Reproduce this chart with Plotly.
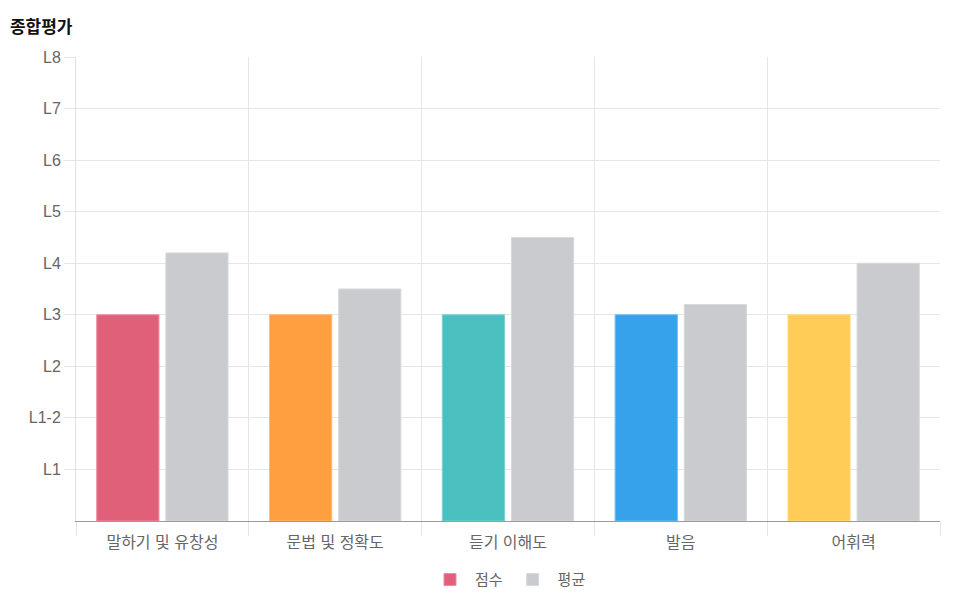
import plotly.graph_objects as go

categories = ["말하기 및 유창성", "문법 및 정확도", "듣기 이해도", "발음", "어휘력"]
score_values = [4, 4, 4, 4, 4]
average_values = [5.2, 4.5, 5.5, 4.2, 5.0]
y_tick_values = [1, 2, 3, 4, 5, 6, 7, 8, 9]
y_tick_labels = ["L1", "L1-2", "L2", "L3", "L4", "L5", "L6", "L7", "L8"]

score_colors = ["rgb(224,96,122)", "rgb(255,159,64)", "rgb(75,192,192)",
                "rgb(54,162,235)", "rgb(255,205,86)"]
score_borders = ["rgb(236,140,160)", "rgb(255,185,115)", "rgb(120,210,210)",
                 "rgb(110,190,240)", "rgb(255,220,130)"]
avg_color = "rgb(201,203,207)"

x_pos = list(range(len(categories)))

fig = go.Figure()
fig.add_trace(go.Bar(
    x=x_pos, y=score_values, name="점수",
    marker=dict(color=score_colors, line=dict(color=score_borders, width=1)),
    hoverinfo="y",
))
fig.add_trace(go.Bar(
    x=x_pos, y=average_values, name="평균",
    marker=dict(color=avg_color, line=dict(color="rgb(215,217,220)", width=1)),
    hoverinfo="y",
))

font_family = "Liberation Sans, Arial, Noto Sans CJK KR, sans-serif"
kr_family = "Liberation Sans, Noto Sans CJK KR, sans-serif"

fig.update_layout(
    width=966, height=600,
    margin=dict(l=68, r=34, t=49, b=87),
    paper_bgcolor="white", plot_bgcolor="white",
    barmode="group", bargap=0.2, bargroupgap=0.1,
    font=dict(family=font_family, size=14, color="#666666"),
    title=dict(text="<b>종합평가</b>", x=0.002, xanchor="left", y=0.968, yanchor="middle",
               font=dict(family=kr_family, size=17, color="#111111")),
    showlegend=True,
    legend=dict(orientation="h", x=0.5, xanchor="center", xref="paper",
                y=0.047, yanchor="middle", yref="container",
                font=dict(size=15, color="#666666", family=kr_family),
                itemwidth=40),
    xaxis=dict(
        range=[-0.5, len(categories) - 0.5],
        tickvals=x_pos, ticktext=categories,
        showgrid=False, zeroline=False, automargin=False,
        showline=True, linecolor="#9a9a9a", linewidth=1,
        ticks="", ticklabelstandoff=7,
        tickfont=dict(family=kr_family, size=16, color="#666666"),
        minor=dict(tick0=-0.5, dtick=1, showgrid=True, gridcolor="#e6e6e6", gridwidth=1,
                   ticks="outside", ticklen=14, tickcolor="#e6e6e6"),
        fixedrange=True,
    ),
    yaxis=dict(
        range=[0, 9],
        tickvals=y_tick_values, ticktext=y_tick_labels,
        showgrid=True, gridcolor="#e6e6e6", gridwidth=1,
        zeroline=False, automargin=False,
        showline=True, linecolor="#e0e0e0", linewidth=1,
        ticks="outside", ticklen=11, tickcolor="#e6e6e6",
        tickfont=dict(size=16, color="#666666"),
        fixedrange=True,
    ),
)

fig.write_html("out.html")
